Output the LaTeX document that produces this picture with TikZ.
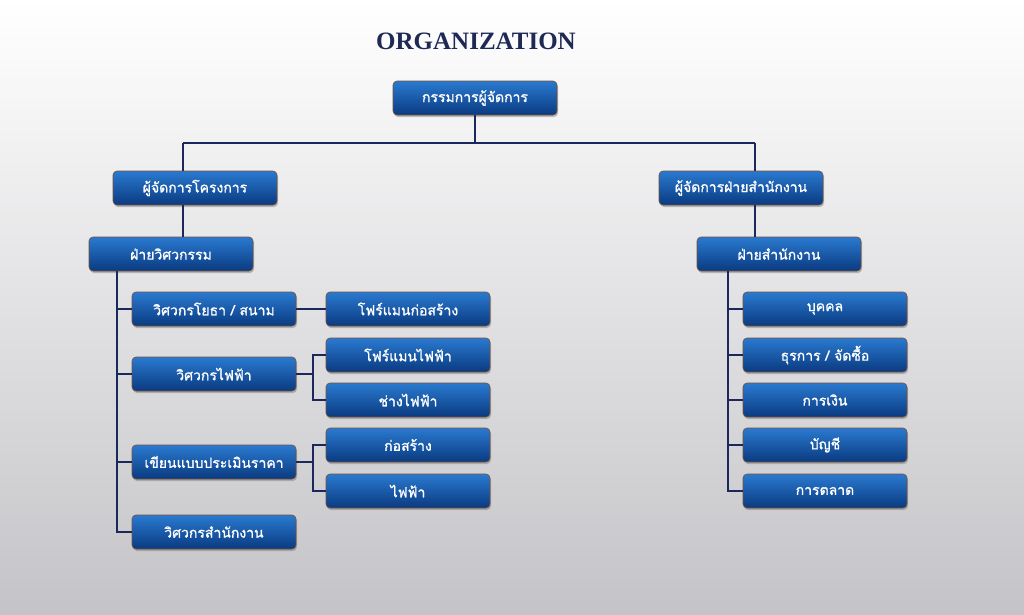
\documentclass[tikz,border=0pt]{standalone}
\usepackage{fontspec}
\setmainfont{Liberation Serif}
\newfontfamily\thaifont[Script=Thai,FakeBold=1.2]{Loma}
\usetikzlibrary{shadows}
\definecolor{boxtop}{RGB}{42,122,208}
\definecolor{boxbot}{RGB}{10,58,128}
\definecolor{boxedge}{RGB}{120,80,55}
\definecolor{linkcol}{RGB}{27,40,92}
\definecolor{titlecol}{RGB}{30,42,85}
\definecolor{bgbot}{RGB}{196,196,200}
\begin{document}
\begin{tikzpicture}[x=1pt,y=-1pt,font=\small]
    \tikzset{box/.style={draw=boxedge, line width=0.6pt, rounded corners=4pt, top color=boxtop, bottom color=boxbot,
                         minimum width=164pt, minimum height=34pt, inner sep=0pt, text=white,
                         font=\thaifont\fontsize{14}{16}\selectfont,
                         drop shadow={shadow xshift=1pt, shadow yshift=-2pt, opacity=0.5}},
             link/.style={draw=linkcol, line width=1.6pt}}
    % background
    \shade[top color=white, bottom color=bgbot] (0,0) rectangle (1024,614);
    \useasboundingbox (0,0) rectangle (1024,614);
    \node[font=\bfseries\fontsize{25}{29}\selectfont, text=titlecol] (title) at (476,41) {ORGANIZATION};
    % top levels
    \node[box] (top) at (475,98) {กรรมการผู้จัดการ};
    \node[box] (pm) at (195,188) {ผู้จัดการโครงการ};
    \node[box] (om) at (741,188) {ผู้จัดการฝ่ายสำนักงาน};
    \node[box] (eng) at (171,254) {ฝ่ายวิศวกรรม};
    \node[box] (adm) at (779,254) {ฝ่ายสำนักงาน};
    % engineering side
    \node[box] (civil) at (214,309) {วิศวกรโยธา / สนาม};
    \node[box] (elec) at (214,374) {วิศวกรไฟฟ้า};
    \node[box] (est) at (214,462) {เขียนแบบประเมินราคา};
    \node[box] (offeng) at (214,532) {วิศวกรสำนักงาน};
    \node[box] (fcon) at (408,309) {โฟร์แมนก่อสร้าง};
    \node[box] (fel) at (408,355) {โฟร์แมนไฟฟ้า};
    \node[box] (tech) at (408,400) {ช่างไฟฟ้า};
    \node[box] (con) at (408,445) {ก่อสร้าง};
    \node[box] (elw) at (408,491) {ไฟฟ้า};
    % office side
    \node[box] (hr) at (825,309) {บุคคล};
    \node[box] (gen) at (825,355) {ธุรการ / จัดซื้อ};
    \node[box] (fin) at (825,400) {การเงิน};
    \node[box] (acc) at (825,445) {บัญชี};
    \node[box] (mkt) at (825,491) {การตลาด};
    % joints
    \coordinate (jn) at (475,143);
    \coordinate (lbus) at (183,143);
    \coordinate (rbus) at (755,143);
    \coordinate (ltrunk) at (117,271);
    \coordinate (rtrunk) at (728,271);
    \coordinate (eb) at (313,374);
    \coordinate (sb) at (313,462);
    \draw[link] (top.south) -- (jn);
    \draw[link] (lbus) -- (rbus);
    \draw[link] (lbus) -- (lbus |- pm.north);
    \draw[link] (rbus) -- (rbus |- om.north);
    \draw[link] (lbus |- pm.south) -- (lbus |- eng.north);
    \draw[link] (rbus |- om.south) -- (rbus |- adm.north);
    \draw[link] (ltrunk) |- (offeng.west);
    \draw[link] (ltrunk |- civil) -- (civil.west);
    \draw[link] (ltrunk |- elec) -- (elec.west);
    \draw[link] (ltrunk |- est) -- (est.west);
    \draw[link] (civil) -- (fcon);
    \draw[link] (elec.east) -- (eb);
    \draw[link] (fel.west) -| (eb) |- (tech.west);
    \draw[link] (est.east) -- (sb);
    \draw[link] (con.west) -| (sb) |- (elw.west);
    \draw[link] (rtrunk) |- (mkt.west);
    \draw[link] (rtrunk |- hr) -- (hr.west);
    \draw[link] (rtrunk |- gen) -- (gen.west);
    \draw[link] (rtrunk |- fin) -- (fin.west);
    \draw[link] (rtrunk |- acc) -- (acc.west);
\end{tikzpicture}
\end{document}
